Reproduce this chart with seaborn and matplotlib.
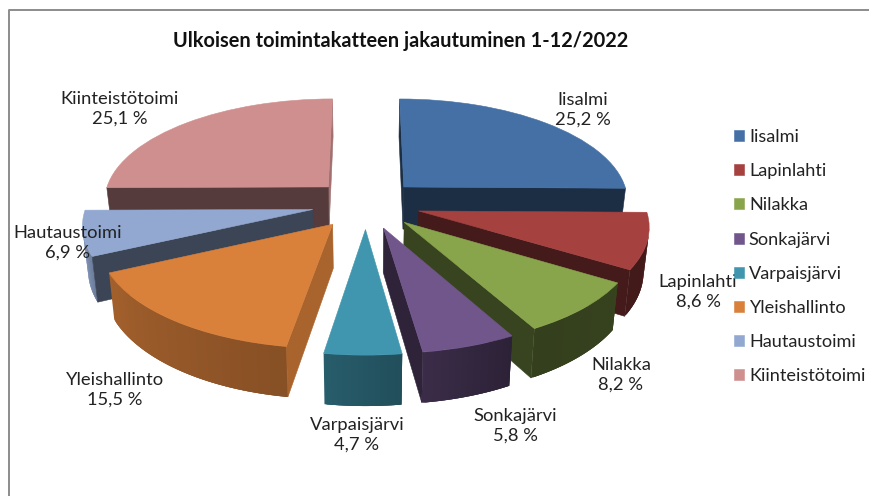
import matplotlib
matplotlib.use('Agg')
import matplotlib.pyplot as plt
from matplotlib.patches import Polygon
from matplotlib.transforms import Transform
import numpy as np
import seaborn as sns

categories = ['Iisalmi', 'Lapinlahti', 'Nilakka', 'Sonkajärvi', 'Varpaisjärvi',
              'Yleishallinto', 'Hautaustoimi', 'Kiinteistötoimi']
shares = [25.2, 8.6, 8.2, 5.8, 4.7, 15.5, 6.9, 25.1]
title = 'Ulkoisen toimintakatteen jakautuminen 1-12/2022'

colors = ['#4570a6', '#a5413f', '#89a54c', '#71568c', '#4096ae', '#d9803b', '#92a8d0', '#cf8f8f']
label_pos = [(583, 110), (698, 292), (621, 375), (515, 426), (357, 435), (115, 390), (68, 243), (120, 109)]

# fake 3D view of the pie, numbers fitted to the picture
CX, CY = 366, 204
RX, RY, PERSP = 226, 103, 0.125
DEPTH, SHRINK = 43, 0.98


def project(x, y, bottom=False):
    x, y = np.asarray(x, float), np.asarray(y, float)
    w = 1 + PERSP * y
    sx = RX * x / w
    sy = -RY * y / w
    if bottom:
        sx = sx * SHRINK
        sy = sy + DEPTH / w
    return np.column_stack([CX + sx, CY + sy])


class PieView(Transform):
    input_dims = output_dims = 2

    def transform_non_affine(self, values):
        return project(values[:, 0], values[:, 1])


def shade(color, f):
    return tuple(c * f for c in matplotlib.colors.to_rgb(color))


def rim_factor(clock):
    return np.interp(clock, [90, 150, 172, 189, 245, 262, 360],
                     [.42, .38, .52, .62, .75, .95, .95])


def visible(a, b, c, d):
    q = np.array([a, b, c, d])
    xs, ys = q[:, 0], q[:, 1]
    return np.sum(xs * np.roll(ys, -1) - np.roll(xs, -1) * ys) > 0


sns.set_theme(style='white')
plt.rcParams['font.family'] = ['Lato', 'DejaVu Sans']

fig, ax = plt.subplots(figsize=(8.7, 4.96), dpi=100)
fig.patch.set_facecolor('white')
ax.set_position([0, 0, 1, 1])

wedges, _ = ax.pie(shares, colors=colors, explode=[0.24] * len(shares), startangle=90,
                   counterclock=False, radius=1)
ax.set_aspect('auto')
ax.set_xlim(0, 870)
ax.set_ylim(496, 0)
ax.axis('off')

view = PieView() + ax.transData
order = sorted(range(len(wedges)), key=lambda i: -wedges[i].center[1])

for z, i in enumerate(order):
    w = wedges[i]
    cx, cy = w.center
    t = np.radians(np.linspace(w.theta1, w.theta2, 60))
    xs = np.r_[cx, cx + np.cos(t)]
    ys = np.r_[cy, cy + np.sin(t)]
    top = project(xs, ys)
    low = project(xs, ys, bottom=True)
    base = 2 * z + 2
    n = len(xs)
    for k in range(1, n - 1):
        if not visible(top[k], top[k + 1], low[k + 1], low[k]):
            continue
        # each strip runs on under the next one so no seams show
        e = min(k + 3, n - 1)
        clock = (90 - np.degrees(t[k - 1])) % 360
        fc = shade(colors[i], rim_factor(clock))
        pts = np.r_[top[k:e + 1], low[k:e + 1][::-1]]
        ax.add_patch(Polygon(pts, closed=True, facecolor=fc, edgecolor='none', zorder=base))
    for k, j in [(0, 1), (n - 1, 0)]:
        if visible(top[k], top[j], low[j], low[k]):
            # straight cut faces: light only when they look to the right
            dx, dy = xs[j] - xs[k], ys[j] - ys[k]
            fc = shade(colors[i], .78 if dy / np.hypot(dx, dy) > .7 else .41)
            ax.add_patch(Polygon([top[k], top[j], low[j], low[k]], closed=True, facecolor=fc,
                                 edgecolor=fc, linewidth=0.4, zorder=base))
    w.set_transform(view)
    w.set_zorder(base + 1)
    w.set_edgecolor(colors[i])
    w.set_linewidth(0.4)

for name, val, (x, y) in zip(categories, shares, label_pos):
    txt = f'{val:.1f} %'.replace('.', ',')
    ax.text(x, y, f'{name}\n{txt}', ha='center', va='center', fontsize=13.2,
            color='#222222', linespacing=1.3, zorder=50)

ax.text(401, 41, title, ha='center', va='center', fontsize=14.4, fontweight='bold',
        color='#111111', zorder=50)

ax.plot([9.5, 9.5, 870], [496, 9.5, 9.5], color='#8c8c8c', lw=1.4, zorder=60, clip_on=False)

leg = ax.legend(wedges, categories, loc='upper left', bbox_to_anchor=(734 / 870, 1 - 129 / 496),
                frameon=False, fontsize=13.1, handlelength=0.55, handleheight=0.55,
                handletextpad=0.27, labelspacing=1.0, borderpad=0, borderaxespad=0,
                labelcolor='#222222')
leg.set_zorder(55)

fig.savefig('out.png', dpi=100)
